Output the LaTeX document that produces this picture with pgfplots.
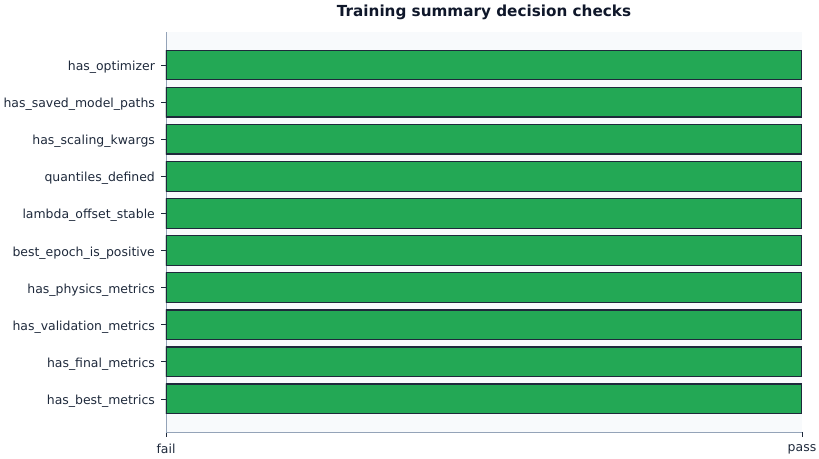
\documentclass[border=0pt]{standalone}
\usepackage{pgfplots}
\pgfplotsset{compat=1.18}
\usepackage{fontspec}
\setmainfont{DejaVu Sans}
\definecolor{barfill}{HTML}{23A855}
\definecolor{baredge}{HTML}{1E293B}
\definecolor{axbg}{HTML}{F8FAFC}
\definecolor{spine}{HTML}{94A3B8}
\definecolor{txt}{HTML}{1E293B}
\definecolor{ttl}{HTML}{0F172A}
\begin{document}
\begin{tikzpicture}[x=1pt,y=1pt]
\path[use as bounding box] (0,0) rectangle (591.9pt,331.7pt);
\begin{axis}[
  at={(119.97pt,19.51pt)}, anchor=south west,
  scale only axis,
  width=459.64pt, height=289.08pt,
  xmin=0, xmax=1,
  ymin=-0.89, ymax=9.89,
  axis background/.style={fill=axbg},
  axis x line*=bottom, axis y line*=left,
  axis line style={spine, line width=0.6pt},
  xtick={0,1}, xticklabels={fail,pass},
  ytick={0,...,9},
  yticklabels={has\_best\_metrics,has\_final\_metrics,has\_validation\_metrics,has\_physics\_metrics,best\_epoch\_is\_positive,lambda\_offset\_stable,quantiles\_defined,has\_scaling\_kwargs,has\_saved\_model\_paths,has\_optimizer},
  tick label style={font=\fontsize{9}{10}\selectfont, text=txt},
  tick style={txt, line width=0.6pt},
  tick align=outside,
  major tick length=3.5pt,
  yticklabel style={xshift=-1pt, yshift=-1.6pt},
  xticklabel style={yshift=-2pt},
  every axis title/.style={at={(0.5,1)}, anchor=base, yshift=11.2pt, font=\fontsize{11}{13}\selectfont, text=ttl},
  title={\textbf{Training summary decision checks}},
]
\addplot[xbar, bar width=0.8, fill=barfill, draw=baredge, line width=0.9pt]
coordinates {(1,0) (1,1) (1,2) (1,3) (1,4) (1,5) (1,6) (1,7) (1,8) (1,9)};
\end{axis}
\end{tikzpicture}
\end{document}
